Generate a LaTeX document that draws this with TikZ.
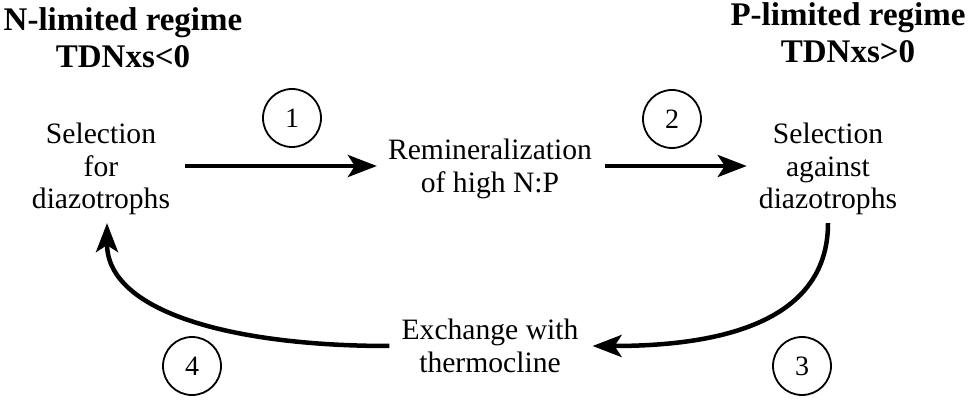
\documentclass[tikz,border=0pt]{standalone}
\usepackage{fontspec}
\setmainfont{Liberation Serif}
\usetikzlibrary{arrows.meta}

\begin{document}
\begin{tikzpicture}[x = 1pt, y = 1pt,
	txt/.style = {align=center, inner sep=0pt, font=\fontsize{29.6}{32.5}\selectfont},
	ttl/.style = {align=center, inner sep=0pt, font=\fontsize{33}{37}\selectfont\bfseries},
	num/.style = {circle, draw, line width=1.8pt, minimum size=58pt, inner sep=0pt, font=\fontsize{28}{28}\selectfont},
	arr/.style = {line width=4.5pt, -{Stealth[length=29pt, width=22pt, inset=7pt]}}]
	    \useasboundingbox (0,0) rectangle (977,399);
	    \node[ttl] (nreg) at (123,361) {N-limited regime\\TDNxs<0};
	    \node[ttl] (preg) at (848,366) {P-limited regime\\TDNxs>0};
	    \node[txt] (selfor) at (101,230) {Selection\\for\\diazotrophs};
	    \node[txt] (remin) at (490,230) {Remineralization\\of high N:P};
	    \node[txt] (selag) at (828,230) {Selection\\against\\diazotrophs};
	    \node[txt] (exch) at (490,53) {Exchange with\\thermocline};
	    \node[num] (n_1) at (292,281) {1};
	    \node[num] (n_2) at (672,280) {2};
	    \node[num] (n_3) at (802,33) {3};
	    \node[num] (n_4) at (192,33) {4};
	    \draw[arr, shorten <=15pt, shorten >=11pt] ([yshift=3pt]selfor.east) -- ([yshift=3pt]remin.west);
	    \draw[arr, shorten <=13pt, shorten >=12pt] ([yshift=3pt]remin.east) -- ([yshift=3pt]selag.west);
	    \draw[arr] ([yshift=-8pt]selag.south) .. controls +(0,-78) and +(168,0) .. ([xshift=14pt]exch.east);
	    \draw[arr] ([xshift=-12pt]exch.west) .. controls +(-160,0) and +(0,-88) .. ([xshift=6pt, yshift=-8pt]selfor.south);
	\end{tikzpicture}
\end{document}
